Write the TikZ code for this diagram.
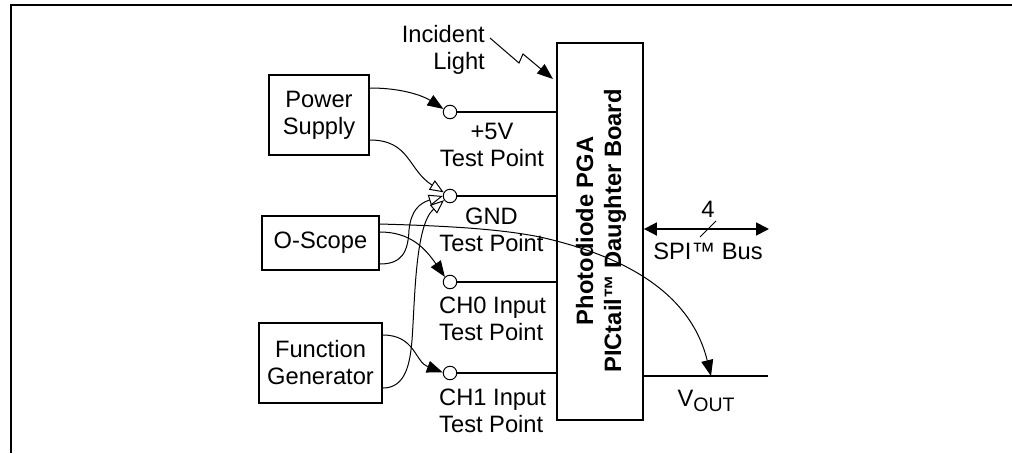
\documentclass[tikz,border=0pt]{standalone}
\usepackage{fontspec}
\setmainfont{Liberation Sans}
\usetikzlibrary{arrows.meta,calc}
\tikzset{
  x=1pt,y=-1pt,
  lbl/.style={inner sep=0pt,align=center,font=\fontsize{23.7}{27}\selectfont},
  lft/.style={inner sep=0pt,align=left,anchor=west,font=\fontsize{23.7}{27}\selectfont},
  boxx/.style={draw,line width=1.8pt,inner sep=0pt,align=center,font=\fontsize{23.7}{27}\selectfont},
  tp/.style={draw,circle,fill=white,line width=1pt,minimum size=13.5pt,inner sep=0pt},
  wire/.style={line width=1.8pt},
  cable/.style={line width=1pt},
  solid tip/.style={cable,-{Triangle[length=16pt,width=12pt]}},
  open tip/.style={cable,-{Triangle[open,fill=white,length=14pt,width=11pt,line width=1pt]}},
}
\begin{document}
\begin{tikzpicture}
\useasboundingbox (0,0) rectangle (1012,453);
\coordinate (fa) at (11,453);
\coordinate (fb) at (11,5);
\coordinate (fc) at (1012,5);
\draw[wire,line join=miter] (fa) -- (fb) -- (fc);

\node[boxx,minimum width=86pt,minimum height=377pt] (board) at (600,231.5) {};
\node[inner sep=0pt,rotate=90,align=center,font=\bfseries\fontsize{23.7}{28}\selectfont] (boardtxt) at (601,231) {Photodiode PGA\\PICtail™ Daughter Board};

\node[boxx,minimum width=100pt,minimum height=80pt] (ps) at (319,115) {Power\\Supply};
\node[boxx,minimum width=117pt,minimum height=54pt] (os) at (320.5,243) {O-Scope};
\node[boxx,minimum width=123pt,minimum height=80pt] (fg) at (320.5,363) {Function\\Generator};

\node[tp] (c1) at (450,112) {};
\node[tp] (c2) at (450,196) {};
\node[tp] (c3) at (450,282) {};
\node[tp] (c4) at (450,373) {};
\foreach \n in {c1,c2,c3,c4} \draw[wire] (\n) -- (\n -| board.west);

\node[lbl,anchor=east,align=right] (inc) at (485,50) {Incident\\Light};
\node[lbl] (t1) at (492,145) {+5V\\Test Point};
\node[lbl] (t2) at (491.5,229.5) {GND\\Test Point};
\node[lft] (t3) at (439,319) {CH0 Input\\Test Point};
\node[lft] (t4) at (439,411) {CH1 Input\\Test Point};

% incident light zigzag
\coordinate (z0) at (490,38);
\coordinate (z1) at (519,63);
\coordinate (z2) at (523,54);
\coordinate (z3) at (553,79);
\draw[solid tip] (z0) -- (z1) -- (z2) -- (z3);

% power supply
\draw[solid tip] ([yshift=27pt]ps.east) .. controls (405,88) and (425,97) .. (c1.155);
\draw[open tip] ([yshift=-25pt]ps.east) .. controls (410,140) and (408,170) .. (c2.150);

% o-scope
\draw[solid tip] ([yshift=11pt]os.east) .. controls (410,232) and (425,248) .. (c3.135);
\draw[open tip] ([yshift=-21pt]os.east) .. controls (402,264) and (408,252) .. (409,230) .. controls (411,210) and (420,203) .. (c2.180);
\coordinate (vt) at (711,376);
\draw[solid tip] ([yshift=19pt]os.east) .. controls (450,226) and (500,229) .. (540,237) .. controls (620,255) and (690,290) .. (vt);

% function generator
\draw[solid tip] ([yshift=28pt]fg.east) .. controls (415,335) and (415,362) .. (c4.175);
\draw[open tip] ([yshift=-25pt]fg.east) .. controls (405,388) and (410,365) .. (412,340) .. controls (415,300) and (415,225) .. (c2.215);

% SPI bus
\coordinate (spir) at (769,229);
\draw[wire,{Triangle[length=13pt,width=13pt]}-{Triangle[length=13pt,width=13pt]}] (board.east |- spir) -- (spir);
\coordinate (sa) at (700,237);
\coordinate (sb) at (716,221);
\draw[cable] (sa) -- (sb);
\node[lbl] (four) at (708,209) {4};
\node[lbl] (spi) at (708,251) {SPI™ Bus};

% Vout
\coordinate (vr) at (768,376);
\draw[wire] (board.east |- vr) -- (vr);
\node[lbl] (vout) at (706,401) {V\raisebox{-5pt}{\fontsize{19.5}{22}\selectfont OUT}};
\end{tikzpicture}
\end{document}
